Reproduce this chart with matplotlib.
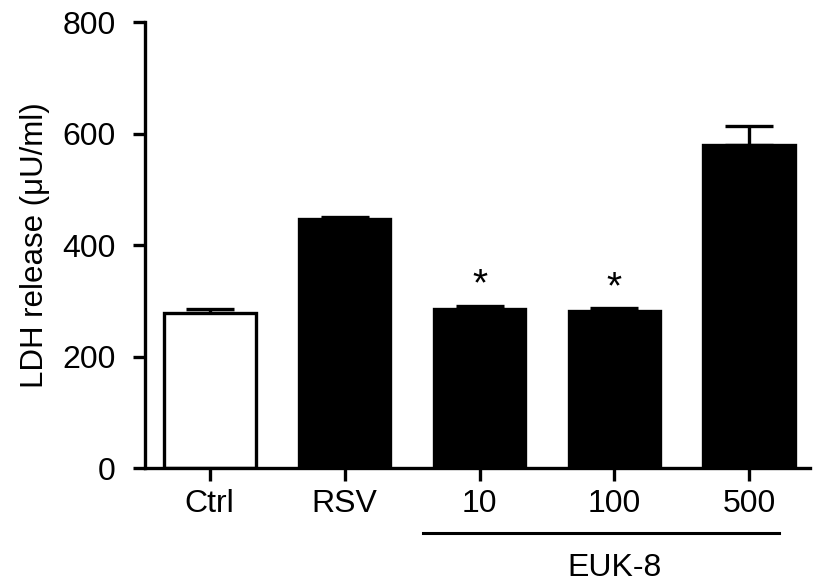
import numpy as np
import matplotlib.pyplot as plt

plt.rcParams['font.family'] = ['Liberation Sans', 'DejaVu Sans']

# values
groups = ['Ctrl', 'RSV', '10', '100', '500']
ldh = [279, 447, 285, 282, 580]
sem = [7, 4, 6, 5, 33]
fills = ['white', 'black', 'black', 'black', 'black']
stars = ['', '', '*', '*', '']

fig = plt.figure(figsize=(8.19, 5.85), dpi=100)
ax = fig.add_axes([0.177, 0.2, 0.812, 0.762])

x = np.arange(len(groups))
ax.bar(x, ldh, width=0.68, color=fills, edgecolor='black', linewidth=2.4, zorder=2)
ax.errorbar(x, ldh, yerr=[np.zeros(len(sem)), sem], fmt='none', ecolor='black',
            elinewidth=2.4, capsize=17, capthick=2.4, zorder=1)

for xi, v, e, s in zip(x, ldh, sem, stars):
    if s:
        ax.text(xi, v + e + 4, s, ha='center', va='bottom', fontsize=28)

ax.set_xlim(-0.48, 4.45)
ax.set_ylim(0, 800)
ax.set_yticks([0, 200, 400, 600, 800])
ax.set_xticks(x)
ax.set_xticklabels(groups)

for side in ['top', 'right']:
    ax.spines[side].set_visible(False)
for side in ['left', 'bottom']:
    ax.spines[side].set_linewidth(2.4)

ax.tick_params(axis='both', width=2.4, length=9, labelsize=23)
ax.tick_params(axis='y', pad=12)
ax.tick_params(axis='x', pad=6)
ax.set_ylabel('LDH release (\u03bcU/ml)', fontsize=22.5, labelpad=9)

# EUK-8 group bracket under the dose labels
ax.plot([1.58, 4.22], [-0.145, -0.145], color='black', linewidth=2.2,
        transform=ax.get_xaxis_transform(), clip_on=False)
ax.text(3.0, -0.225, 'EUK-8', ha='center', va='center', fontsize=23,
        transform=ax.get_xaxis_transform())

fig.savefig('out.png', dpi=100)
